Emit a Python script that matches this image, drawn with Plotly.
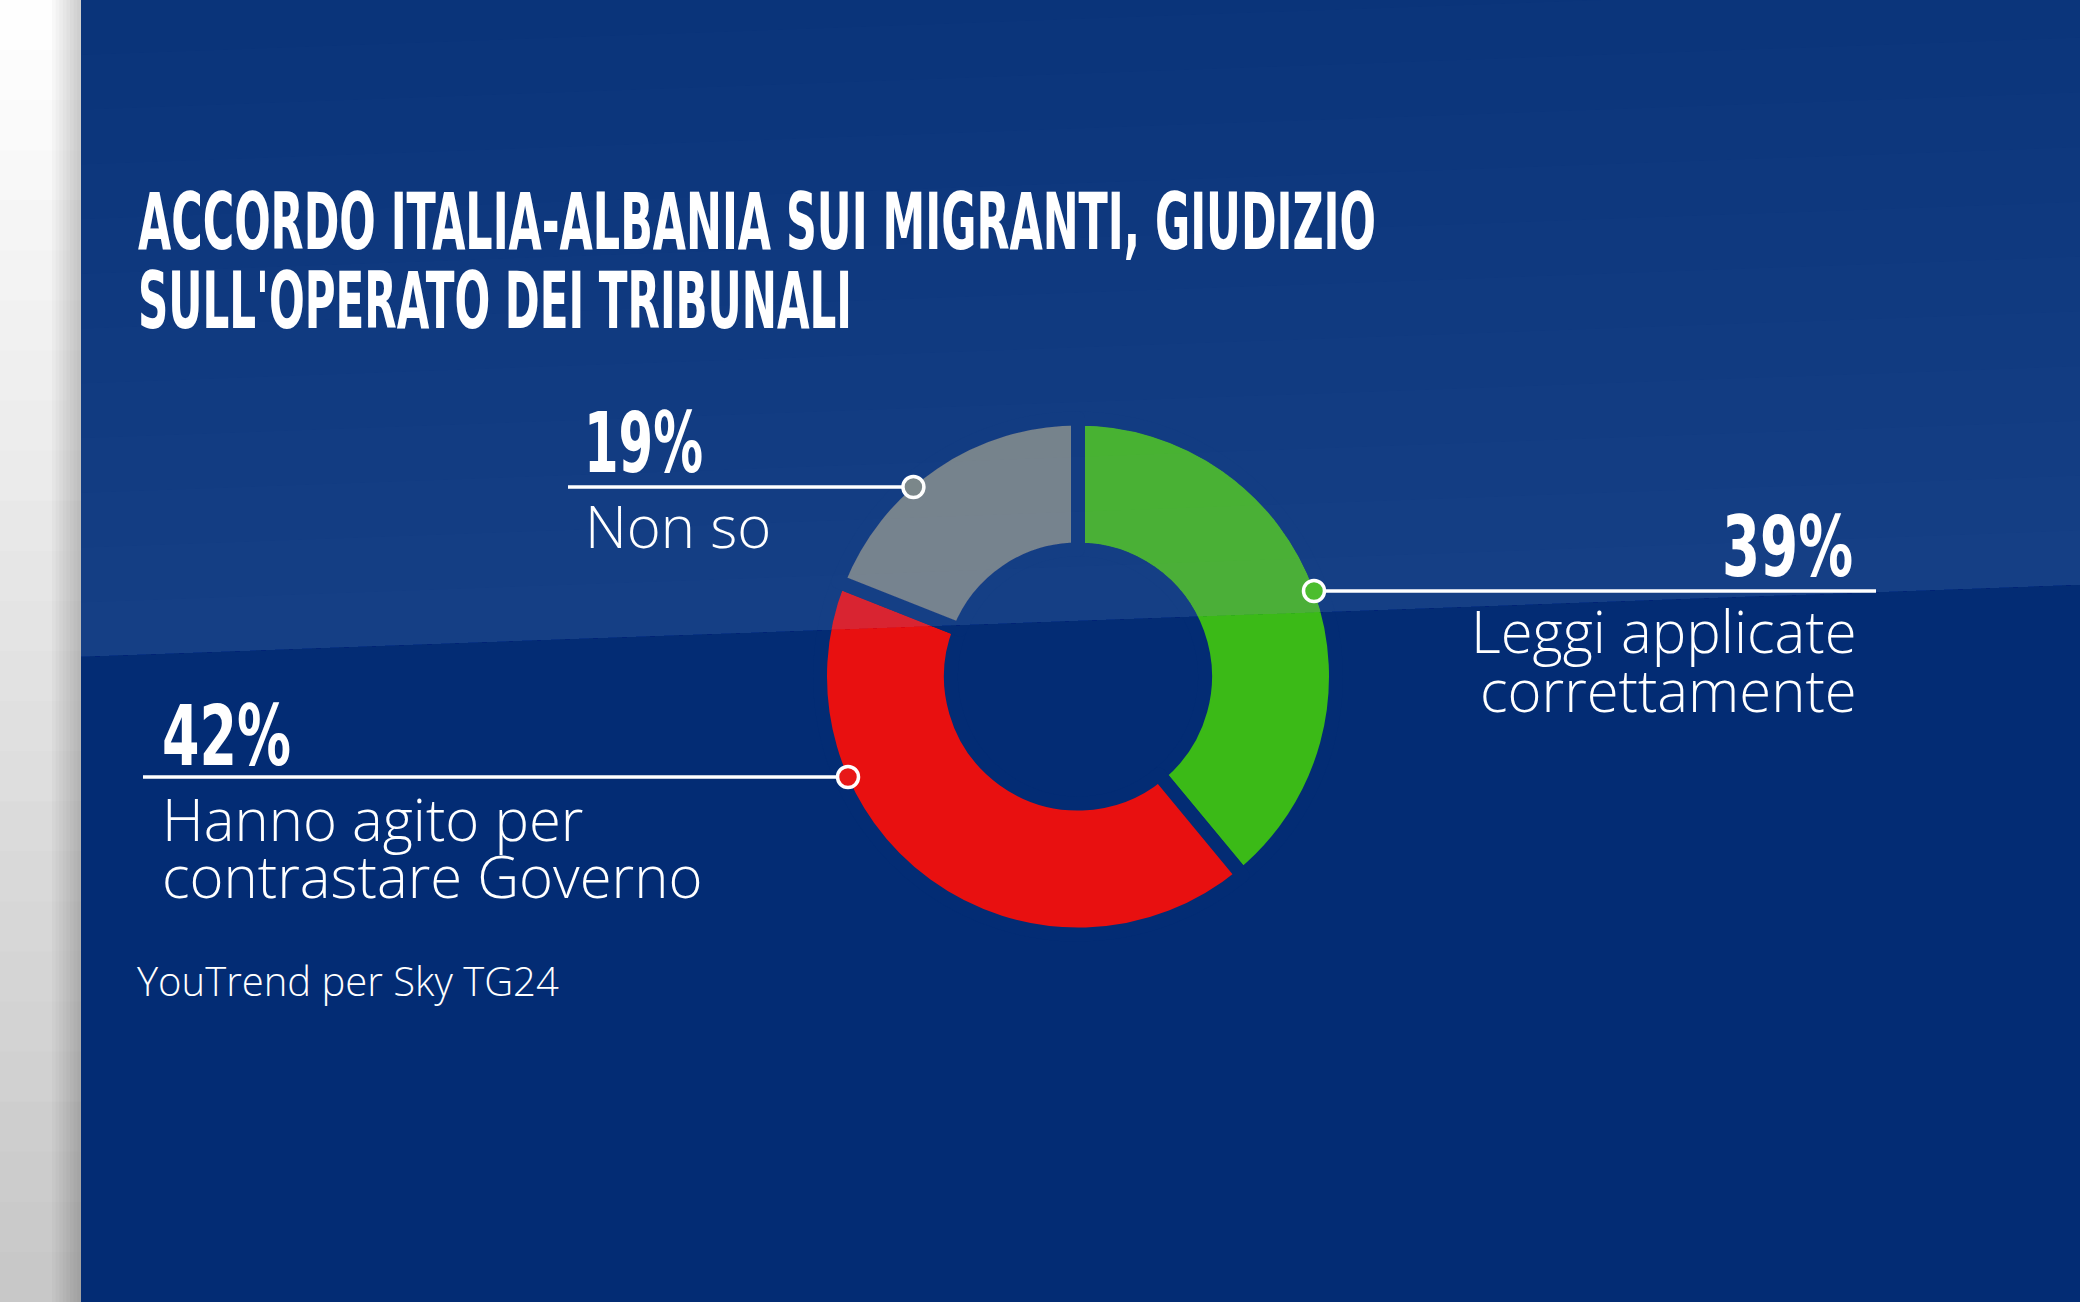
import math
import json
import plotly.graph_objects as go

# ---------------- data ----------------
categories = ["Leggi applicate correttamente", "Hanno agito per contrastare Governo", "Non so"]
values = [39, 42, 19]
pct_labels = ["39%", "42%", "19%"]
label_lines = [["Leggi applicate", "correttamente"], ["Hanno agito per", "contrastare Governo"], ["Non so"]]
slice_colors = ["#3bba17", "#e81010", "#74807f"]
marker_fill = ["#4cbd2e", "#e81818", "#7b878a"]
title_lines = ["ACCORDO ITALIA-ALBANIA SUI MIGRANTI, GIUDIZIO", "SULL'OPERATO DEI TRIBUNALI"]
source = "YouTrend per Sky TG24"

# ---------------- layout constants ----------------
W, H = 2080, 1302
BG = "#032c74"
STRIP_W = 81
DIAG = (657, 585)          # y of the light/dark boundary at x=STRIP_W and x=W
CX, CY = 1078, 676.5       # pie centre (px)
R_VIS = 251                # visible outer radius
GAP = 14                   # gap between slices
R = R_VIS + GAP / 2
HOLE = (134 - GAP / 2) / R

COND = "DejaVu Sans Condensed, DejaVu Sans, sans-serif"
SANS = "Open Sans, Noto Sans, sans-serif"

# rendered widths (px) of the condensed display texts
squeeze_widths = {title_lines[0]: 1238, title_lines[1]: 714,
                  pct_labels[0]: 131, pct_labels[1]: 129, pct_labels[2]: 119}

fig = go.Figure()

# hidden pixel axis
fig.add_trace(go.Scatter(x=[0, W], y=[0, H], mode="markers", marker=dict(opacity=0),
                         hoverinfo="skip", showlegend=False))

fig.add_trace(go.Pie(
    labels=categories, values=values, sort=False, direction="clockwise", rotation=0,
    hole=HOLE, textinfo="none", hoverinfo="skip", showlegend=False,
    marker=dict(colors=slice_colors, line=dict(color=BG, width=GAP)),
    domain=dict(x=[(CX - R) / W, (CX + R) / W], y=[(H - CY - R) / H, (H - CY + R) / H]),
))

shapes = []
# light overlay above the diagonal (gradient by stacking)
OV = "rgba(170,200,228,{a})"
shapes.append(dict(type="path", xref="x", yref="y", layer="above", line=dict(width=0),
                   fillcolor=OV.format(a=0.045),
                   path=f"M {STRIP_W},0 L {W},0 L {W},{DIAG[1]} L {STRIP_W},{DIAG[0]} Z"))
N = 12
for k in range(1, N + 1):
    d = DIAG[0] * k / N
    shapes.append(dict(type="path", xref="x", yref="y", layer="above", line=dict(width=0),
                       fillcolor=OV.format(a=0.0105),
                       path=f"M {STRIP_W},{DIAG[0]-d} L {W},{DIAG[1]-d} L {W},{DIAG[1]} L {STRIP_W},{DIAG[0]} Z"))

# left light strip (vertical gradient)
NB = 26
c0, c1 = (254, 254, 254), (200, 200, 200)
for i in range(NB):
    t = i / (NB - 1)
    c = tuple(int(round(c0[j] + (c1[j] - c0[j]) * t)) for j in range(3))
    shapes.append(dict(type="rect", xref="x", yref="y", layer="above", line=dict(width=0),
                       fillcolor=f"rgb{c}", x0=0, x1=STRIP_W, y0=H * i / NB, y1=H * (i + 1) / NB + 1))
# shadow near the strip's right edge
for i in range(8):
    x0 = 52 + i * 3.6
    shapes.append(dict(type="rect", xref="x", yref="y", layer="above", line=dict(width=0),
                       fillcolor="rgba(0,0,0,0.022)", x0=x0, x1=STRIP_W, y0=0, y1=H))

# connectors
LINE_Y = [591, 777, 487]
LINE_END = [1876, 143, 568]
SIDE = [1, -1, -1]
for i in range(3):
    y = LINE_Y[i]
    cx = CX + SIDE[i] * math.sqrt(R_VIS ** 2 - (y - CY) ** 2)
    shapes.append(dict(type="line", xref="x", yref="y", layer="above",
                       x0=cx, x1=LINE_END[i], y0=y, y1=y, line=dict(color="white", width=3.5)))
    r = 10.5
    shapes.append(dict(type="circle", xref="x", yref="y", layer="above",
                       x0=cx - r, x1=cx + r, y0=y - r, y1=y + r,
                       fillcolor=marker_fill[i], line=dict(color="white", width=3.5)))

annotations = []


def txt(text, x, baseline, size, font, anchor="left", ratio=0.388, weight=350):
    a = dict(text=text, x=x, y=baseline - ratio * size, xref="x", yref="y",
             xanchor=anchor, yanchor="middle", align=anchor, showarrow=False,
             font=dict(family=font, size=size, color="white", weight=weight))
    if text in squeeze_widths:
        a["width"] = squeeze_widths[text] + 2
    annotations.append(a)


TSZ = 78
txt(title_lines[0], 136, 249, TSZ, COND, ratio=0.346, weight=700)
txt(title_lines[1], 136, 328, TSZ, COND, ratio=0.346, weight=700)

PSZ = 83
LSZ = 58
# 39%
txt(pct_labels[0], 1855, 576, PSZ, COND, anchor="right", ratio=0.346, weight=700)
txt(label_lines[0][0], 1859, 653, LSZ, SANS, anchor="right")
txt(label_lines[0][1], 1859, 712, LSZ, SANS, anchor="right")
# 42%
txt(pct_labels[1], 160, 765, PSZ, COND, ratio=0.346, weight=700)
txt(label_lines[1][0], 160, 841, LSZ, SANS)
txt(label_lines[1][1], 160, 898, LSZ, SANS)
# 19%
txt(pct_labels[2], 582, 472, PSZ, COND, ratio=0.346, weight=700)
txt(label_lines[2][0], 583, 548, LSZ, SANS)
# source
txt(source, 135, 996, 40, SANS)

fig.update_layout(
    width=W, height=H, margin=dict(l=0, r=0, t=0, b=0),
    paper_bgcolor=BG, plot_bgcolor="rgba(0,0,0,0)",
    xaxis=dict(range=[0, W], visible=False, domain=[0, 1], fixedrange=True),
    yaxis=dict(range=[H, 0], visible=False, domain=[0, 1], fixedrange=True),
    shapes=shapes, annotations=annotations, showlegend=False,
)

post = """
var gd = document.getElementById('{plot_id}');
var widths = %s;
function squeeze(){
  gd.querySelectorAll('text.annotation-text').forEach(function(el){
    var w = widths[el.textContent];
    if(w){ el.setAttribute('textLength', w); el.setAttribute('lengthAdjust', 'spacingAndGlyphs'); }
  });
}
squeeze();
gd.on('plotly_afterplot', squeeze);
""" % json.dumps(squeeze_widths)

fig.write_html("out.html", config={"displayModeBar": False}, post_script=post)
